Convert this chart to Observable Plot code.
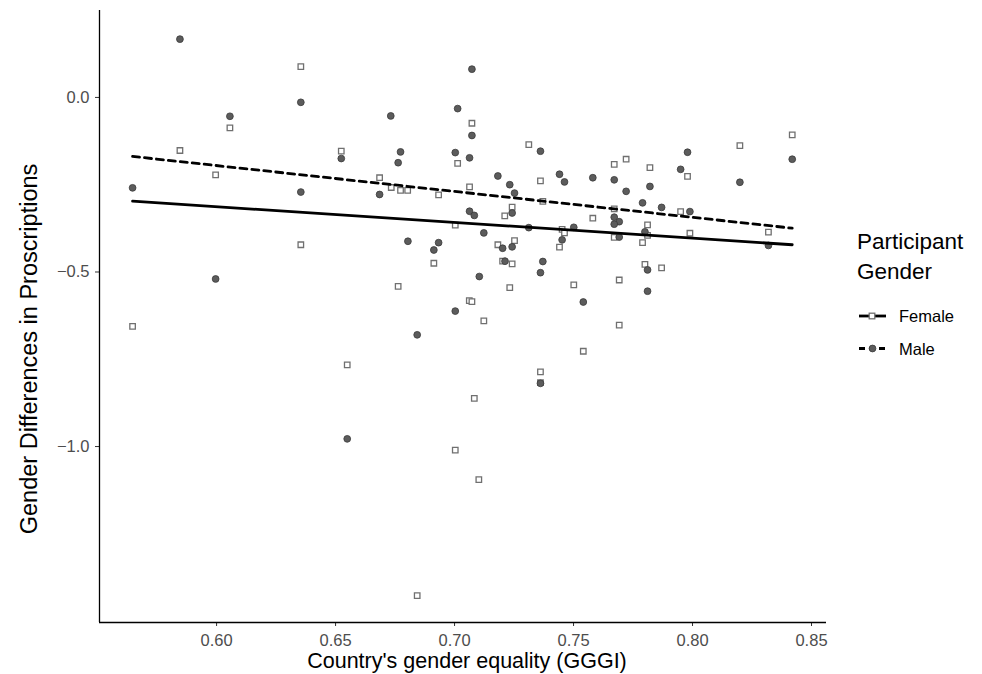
<!DOCTYPE html>
<html>
<head>
<meta charset="utf-8">
<script src="https://cdn.jsdelivr.net/npm/d3@7"></script>
<script src="https://cdn.jsdelivr.net/npm/@observablehq/plot@0.6"></script>
<style>
  body { margin: 0; background: #fff; }
  #chart svg { display: block; }
</style>
</head>
<body>
<div id="chart"></div>
<script>
// Female participants (open squares)
const femaleX = [0.6354,0.6056,0.5846,0.6524,0.5996,0.6354,0.5647,0.6549,0.7073,0.7312,
  0.7013,0.7361,0.6685,0.6734,0.6773,0.6803,0.6933,0.7063,0.7371,0.7242,
  0.7211,0.7003,0.7452,0.7462,0.7441,0.6913,0.7182,0.7252,0.7202,0.7242,
  0.6763,0.7232,0.7501,0.7062,0.7073,0.7123,0.7541,0.7361,0.7361,0.7083,
  0.7003,0.7102,0.6843,0.8419,0.8199,0.7671,0.7721,0.7821,0.7979,0.7671,
  0.7950,0.7581,0.7811,0.7811,0.7989,0.7671,0.7790,0.8319,0.7800,0.7870,
  0.7692,0.7692];
const femaleY = [0.088,-0.087,-0.152,-0.154,-0.222,-0.422,-0.656,-0.766,-0.074,-0.135,
  -0.189,-0.239,-0.230,-0.258,-0.266,-0.266,-0.279,-0.256,-0.298,-0.314,
  -0.339,-0.366,-0.378,-0.388,-0.429,-0.475,-0.422,-0.410,-0.469,-0.477,
  -0.541,-0.545,-0.537,-0.582,-0.585,-0.640,-0.727,-0.786,-0.817,-0.862,
  -1.010,-1.095,-1.427,-0.107,-0.138,-0.192,-0.177,-0.201,-0.226,-0.319,
  -0.327,-0.346,-0.365,-0.395,-0.389,-0.401,-0.416,-0.386,-0.478,-0.488,
  -0.523,-0.652];
// Male participants (filled circles)
const maleX = [0.5846,0.6354,0.6056,0.6524,0.5647,0.6354,0.5996,0.6549,0.7073,0.7013,
  0.6732,0.7073,0.7361,0.6773,0.7003,0.6763,0.7063,0.7182,0.7441,0.7462,
  0.7581,0.7232,0.6685,0.7252,0.7242,0.7063,0.7083,0.7312,0.7501,0.7452,
  0.7123,0.6804,0.6933,0.6913,0.7202,0.7242,0.7212,0.7371,0.7361,0.7104,
  0.7541,0.7003,0.6843,0.7361,0.7979,0.8419,0.7950,0.7671,0.8199,0.7821,
  0.7721,0.7790,0.7870,0.7989,0.7671,0.7692,0.7671,0.7800,0.7692,0.8319,
  0.7811,0.7811];
const maleY = [0.167,-0.014,-0.054,-0.175,-0.259,-0.271,-0.520,-0.978,0.081,-0.032,
  -0.053,-0.109,-0.154,-0.156,-0.158,-0.187,-0.173,-0.225,-0.220,-0.242,
  -0.230,-0.250,-0.278,-0.274,-0.331,-0.326,-0.338,-0.373,-0.372,-0.408,
  -0.388,-0.412,-0.416,-0.437,-0.432,-0.428,-0.469,-0.470,-0.502,-0.513,
  -0.586,-0.612,-0.680,-0.819,-0.157,-0.177,-0.206,-0.236,-0.243,-0.255,
  -0.269,-0.302,-0.315,-0.327,-0.343,-0.356,-0.363,-0.385,-0.400,-0.424,
  -0.494,-0.555];

// Model-fitted trend lines (endpoints)
const fitX = [0.5647, 0.8419];
const femaleFitY = [-0.297, -0.422];
const maleFitY = [-0.169, -0.3745];

const xTicks = [0.60, 0.65, 0.70, 0.75, 0.80, 0.85];
const yTicks = [0.0, -0.5, -1.0];
const xDomain = [0.5508, 0.8563];
const yDomain = [-1.504, 0.249];
const genders = ["Female", "Male"];

const female = femaleX.map((x, i) => ({x, y: femaleY[i], gender: "Female"}));
const male = maleX.map((x, i) => ({x, y: maleY[i], gender: "Male"}));
const femaleFit = fitX.map((x, i) => ({x, y: femaleFitY[i]}));
const maleFit = fitX.map((x, i) => ({x, y: maleFitY[i]}));

const FONT = "'Liberation Sans', Arial, Helvetica, sans-serif";

const chart = Plot.plot({
  width: 982,
  height: 674,
  marginLeft: 99,
  marginTop: 10,
  marginBottom: 52,
  marginRight: 156,
  style: {fontFamily: FONT, background: "#fff", overflow: "visible"},
  x: {domain: xDomain},
  y: {domain: yDomain},
  marks: [
    Plot.axisX(xTicks, {tickSize: 4, tickPadding: 8, fontSize: 16.5, stroke: "#333", fill: "#4d4d4d",
      tickFormat: d3.format(".2f"), label: null}),
    Plot.axisY(yTicks, {tickSize: 4, tickPadding: 6, fontSize: 16.5, stroke: "#333", fill: "#4d4d4d",
      tickFormat: d3.format(".1f"), label: null}),
    Plot.ruleX([xDomain[0]], {stroke: "#000", strokeWidth: 1.3}),
    Plot.ruleY([yDomain[0]], {stroke: "#000", strokeWidth: 1.3}),
    Plot.dot(female, {x: "x", y: "y", symbol: "square", r: 3.1, fill: "#fff", stroke: "#707070", strokeWidth: 1.3}),
    Plot.dot(male, {x: "x", y: "y", r: 3.4, fill: "#5c5c5c", stroke: "#3a3a3a", strokeWidth: 0.8}),
    Plot.line(femaleFit, {x: "x", y: "y", stroke: "#000", strokeWidth: 2.8}),
    Plot.line(maleFit, {x: "x", y: "y", stroke: "#000", strokeWidth: 2.8, strokeDasharray: "7,5"})
  ]
});

document.getElementById("chart").append(chart);

const svg = d3.select(chart);
// Axis titles
svg.append("text")
  .attr("x", 467).attr("y", 668)
  .attr("text-anchor", "middle")
  .style("font-family", FONT).style("font-size", "21.5px").attr("fill", "#000")
  .text("Country's gender equality (GGGI)");
svg.append("text")
  .attr("transform", "translate(37,349) rotate(-90)")
  .attr("text-anchor", "middle")
  .style("font-family", FONT).style("font-size", "23.5px").attr("fill", "#000")
  .text("Gender Differences in Proscriptions");

// Legend
const lg = svg.append("g").attr("text-anchor", "start");
lg.append("text").attr("x", 857).attr("y", 249).attr("text-anchor", "start")
  .style("font-family", FONT).style("font-size", "22.5px").attr("fill", "#000").text("Participant");
lg.append("text").attr("x", 857).attr("y", 279).attr("text-anchor", "start")
  .style("font-family", FONT).style("font-size", "22.5px").attr("fill", "#000").text("Gender");
genders.forEach((g, i) => {
  const cy = 316 + i * 32.5;
  lg.append("line").attr("x1", 859).attr("x2", 886).attr("y1", cy).attr("y2", cy)
    .attr("stroke", "#000").attr("stroke-width", 2.8)
    .attr("stroke-dasharray", g === "Male" ? "6,4" : null);
  if (g === "Female") {
    lg.append("rect").attr("x", 869.2).attr("y", cy - 2.8).attr("width", 5.6).attr("height", 5.6)
      .attr("fill", "#fff").attr("stroke", "#707070").attr("stroke-width", 1.3);
  } else {
    lg.append("circle").attr("cx", 872.5).attr("cy", cy).attr("r", 3.4)
      .attr("fill", "#5c5c5c").attr("stroke", "#3a3a3a").attr("stroke-width", 0.8);
  }
  lg.append("text").attr("x", 899).attr("y", cy + 6).attr("text-anchor", "start")
    .style("font-family", FONT).style("font-size", "16.5px").attr("fill", "#000").text(g);
});
</script>
</body>
</html>
